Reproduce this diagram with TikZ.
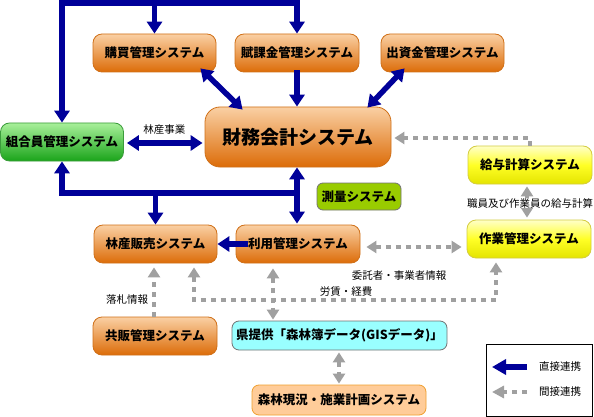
\documentclass[tikz,border=0pt]{standalone}
\usepackage{fontspec}
\setmainfont{Noto Sans CJK JP}
\usetikzlibrary{arrows.meta,calc}
\definecolor{navyc}{HTML}{000099}
\definecolor{grayc}{HTML}{A0A0A0}
\definecolor{orTop}{HTML}{FAD0A4}
\definecolor{orBot}{HTML}{DC6C08}
\definecolor{orBd}{HTML}{D07018}
\definecolor{grTop}{HTML}{A8F09A}
\definecolor{grBot}{HTML}{1AA41A}
\definecolor{grBd}{HTML}{3C9C3C}
\definecolor{yeTop}{HTML}{FFFFC8}
\definecolor{yeBot}{HTML}{E4E400}
\definecolor{yeBd}{HTML}{D4CC40}
\definecolor{srvC}{HTML}{99CC00}
\definecolor{cyC}{HTML}{99FFFF}
\definecolor{ltOr}{HTML}{FFCC99}
\definecolor{ltOrBd}{HTML}{F0A030}
\tikzset{
  box/.style={rounded corners=9pt, line width=0.8pt, inner sep=0pt,
    minimum height=38pt, text=black, font=\fontsize{12.5}{15}\selectfont\bfseries},
  obox/.style={box, draw=orBd, top color=orTop, bottom color=orBot},
  gbox/.style={box, draw=grBd, top color=grTop, bottom color=grBot},
  ybox/.style={box, draw=yeBd, top color=yeTop, bottom color=yeBot, middle color=yellow!85!white},
  bline/.style={draw=navyc, line width=5.5pt, line join=miter, line cap=rect},
  btip/.tip={Triangle[width=15pt,length=12pt]},
  barr/.style={bline, -btip},
  bdbl/.style={bline, btip-btip},
  gline/.style={draw=grayc, line width=4.5pt, dash pattern=on 5pt off 5pt},
  gtip/.tip={Triangle[width=12pt,length=10pt]},
  garr/.style={gline, -gtip},
  gdbl/.style={gline, gtip-gtip},
  lbl/.style={font=\fontsize{10.5}{12}\selectfont, inner sep=1pt, text=black}
}
\begin{document}
\begin{tikzpicture}[x=1pt,y=-1pt]
\useasboundingbox (0,0) rectangle (594,417);
\fill[white] (0,0) rectangle (594,417);

% nodes
\node[obox, minimum width=123pt] (kobai) at (154.5,53) {購買管理システム};
\node[obox, minimum width=124pt] (fuka) at (297,53) {賦課金管理システム};
\node[obox, minimum width=123pt] (shusshi) at (442.5,53) {出資金管理システム};
\node[gbox, minimum width=123pt] (kumiai) at (62,142) {組合員管理システム};
\node[obox, minimum width=186pt, minimum height=60pt, rounded corners=15pt,
      font=\fontsize{19}{22}\selectfont\bfseries] (zaimu) at (298,137) {財務会計システム};
\node[ybox, minimum width=124pt] (kyuyo) at (530,165) {給与計算システム};
\node[box, draw=black!55, fill=srvC, minimum width=84pt, minimum height=27pt,
      rounded corners=6pt] (sokuryo) at (359,196.5) {測量システム};
\node[obox, minimum width=123pt] (hanbai) at (155.5,244) {林産販売システム};
\node[obox, minimum width=124pt] (riyo) at (298,244) {利用管理システム};
\node[ybox, minimum width=124pt] (sagyo) at (529,239) {作業管理システム};
\node[obox, minimum width=124pt] (kyohan) at (155,336) {共販管理システム};
\node[box, draw=black!55, fill=cyC, minimum width=215pt, minimum height=29pt,
      rounded corners=7pt] (gis) at (339.5,335.5) {県提供「森林簿データ(GISデータ)」};
\node[box, draw=ltOrBd, fill=ltOr, minimum width=174pt, minimum height=30pt,
      rounded corners=7pt] (genkyo) at (339,400) {森林現況・施業計画システム};

% blue connectors
\coordinate (tr) at (297,3);
\coordinate (bj) at (297,193);
\draw[barr] (tr) -| (kumiai.north);
\draw[barr] (kobai.north |- tr) -- (kobai.north);
\draw[barr] (fuka.north |- tr) -- (fuka.north);
\draw[barr] (fuka.south) -- (fuka.south |- zaimu.north);
\draw[bdbl] ([xshift=-16pt,yshift=4pt]kobai.south east) -- ([xshift=38pt,yshift=-3pt]zaimu.north west);
\draw[bdbl] ([xshift=24pt,yshift=4pt]shusshi.south west) -- ([xshift=-24pt,yshift=-1pt]zaimu.north east);
\draw[bdbl, shorten <=3pt, shorten >=2pt] ([yshift=-1pt]kumiai.east) -- ([yshift=-1pt]kumiai.east -| zaimu.west)
  node[lbl, midway, above=5pt] (rinsan) {林産事業};
\draw[barr] (bj) -| (kumiai.south);
\draw[barr] (hanbai.north |- bj) -- (hanbai.north);
\draw[bdbl, shorten >=1pt] (zaimu.south -| bj) -- (riyo.north -| bj);
\draw[barr] ([xshift=10pt]riyo.west) -- (hanbai.east);

% gray connectors
\coordinate (ll) at (194,300);
\coordinate (lr) at (496,300);
\coordinate (rg) at (273,290);
\draw[garr, shorten >=3pt] (kyuyo.north) |- ([yshift=-1pt]zaimu.east);
\draw[gdbl, shorten <=2pt, shorten >=2pt] (kyuyo.south -| 527,0) -- (sagyo.north -| 527,0);
\node[lbl, fill=white, inner sep=0.5pt] (kyulbl) at (530,203) {職員及び作業員の給与計算};
\draw[gdbl, shorten <=6pt, shorten >=5pt] ([yshift=-3pt]riyo.east) -- ([yshift=-3pt]riyo.east -| sagyo.west);
\draw[gdbl, shorten <=4pt, shorten >=4pt] (hanbai.south -| ll) -- (ll) -- (lr) -- (sagyo.south -| lr);
\draw[garr, shorten >=4pt] ([xshift=-1pt]kyohan.north) -- ([xshift=-1pt]kyohan.north |- hanbai.south);
\draw[gdbl, shorten <=5pt, shorten >=1pt] (riyo.south -| rg) -- (gis.north -| rg);
\draw[gdbl, shorten <=2pt, shorten >=1pt] (gis.south -| genkyo.north) -- (genkyo.north);

% labels
\node[lbl] (rakusatsu) at (127,300) {落札情報};
\node[lbl] (itaku) at (399,276) {委託者・事業者情報};
\node[lbl] (rochin) at (346,292) {労賃・経費};

% legend
\node[draw=black, line width=1pt, minimum width=106pt, minimum height=72pt, inner sep=0pt] (legend) at (539,380) {};
\coordinate (l1a) at (527,367);
\coordinate (l1b) at (492,367);
\coordinate (l2a) at (527,392);
\coordinate (l2b) at (492,392);
\draw[bline, line cap=butt, -{Triangle[width=15pt,length=14pt]}] (l1a) -- (l1b);
\draw[gline, -{Triangle[width=12pt,length=12pt]}] (l2a) -- (l2b);
\node[lbl, anchor=west] (lg1) at (538,367) {直接連携};
\node[lbl, anchor=west] (lg2) at (538,392) {間接連携};
\end{tikzpicture}
\end{document}
